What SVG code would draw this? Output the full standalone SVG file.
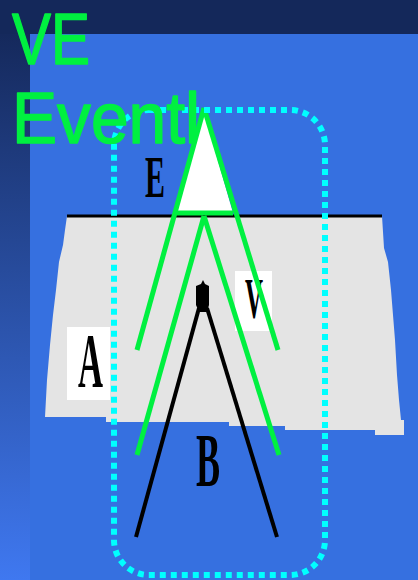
<svg xmlns="http://www.w3.org/2000/svg" width="418" height="580" viewBox="0 0 418 580">
<defs>
<linearGradient id="strip" x1="0" y1="0" x2="0" y2="1">
<stop offset="0" stop-color="#15295c"/>
<stop offset="1" stop-color="#3f78f0"/>
</linearGradient>
<style>
.green{stroke:#00f040;stroke-width:5;fill:none;stroke-linecap:butt}
.leg{stroke:#000;stroke-width:4;fill:none}
.letter{font-family:"Liberation Serif",serif;font-weight:bold;fill:#000}
.box{fill:#fff}
.title{font-family:"Liberation Sans",sans-serif;fill:#00f040;stroke:#00f040;stroke-width:1.5;stroke-linejoin:round}
</style>
</defs>
<rect x="0" y="0" width="418" height="580" fill="#3670e0"/>
<rect x="0" y="0" width="418" height="34" fill="#14285a"/>
<rect x="0" y="34" width="30" height="546" fill="url(#strip)"/>
<g id="platform">
<polygon points="67,216 382,216 384,248 388,262 391,290 393,315 395,340 397,375 399,400 401,420 404,420 404,435 375,435 375,430 285,430 285,426 229,426 229,422 106,422 106,417 45,417 47,380 50,345 53,315 56,290 59,262 63,245 65,230" fill="#e4e4e4"/>
<line x1="67" y1="216" x2="382" y2="216" stroke="#000" stroke-width="3"/>
</g>
<g id="node-A">
<rect class="box" x="67" y="327" width="43" height="73"/>
<text class="letter" x="78" y="387" font-size="78" textLength="25" lengthAdjust="spacingAndGlyphs">A</text>
</g>
<g id="node-V">
<rect class="box" x="235" y="271" width="37" height="60"/>
<text class="letter" x="245" y="318" font-size="57" textLength="18" lengthAdjust="spacingAndGlyphs">V</text>
</g>
<g id="node-E">
<text class="letter" x="145" y="197" font-size="59" textLength="20" lengthAdjust="spacingAndGlyphs">E</text>
</g>
<g id="node-B">
<text class="letter" x="196" y="486" font-size="77" textLength="24" lengthAdjust="spacingAndGlyphs">B</text>
</g>
<g id="connectors">
<polygon points="204,112 176,213 233,213" fill="#fff" stroke="none"/>
<line class="green" x1="176" y1="213" x2="233" y2="213"/>
<line class="green" x1="204" y1="108" x2="137" y2="350"/>
<line class="green" x1="204" y1="108" x2="278" y2="350"/>
<line class="green" x1="204" y1="216" x2="137" y2="455"/>
<line class="green" x1="204" y1="216" x2="279" y2="455"/>
<polygon points="203,280 205,284 209,286 209,305 207,312 199,312 196,305 196,286 201,284" fill="#000"/>
<line class="leg" x1="199" y1="308" x2="136" y2="537"/>
<line class="leg" x1="207" y1="308" x2="277" y2="537"/>
</g>
<g id="frame">
<rect x="114" y="110" width="211" height="465" rx="35" ry="35" fill="none" stroke="#00ffff" stroke-width="6" stroke-dasharray="6 5"/>
</g>
<g id="title">
<text class="title" x="12" y="64" font-size="72" textLength="78" lengthAdjust="spacingAndGlyphs">VE</text>
<text class="title" x="12" y="143" font-size="72" textLength="188" lengthAdjust="spacingAndGlyphs">Eventl</text>
</g>
</svg>
